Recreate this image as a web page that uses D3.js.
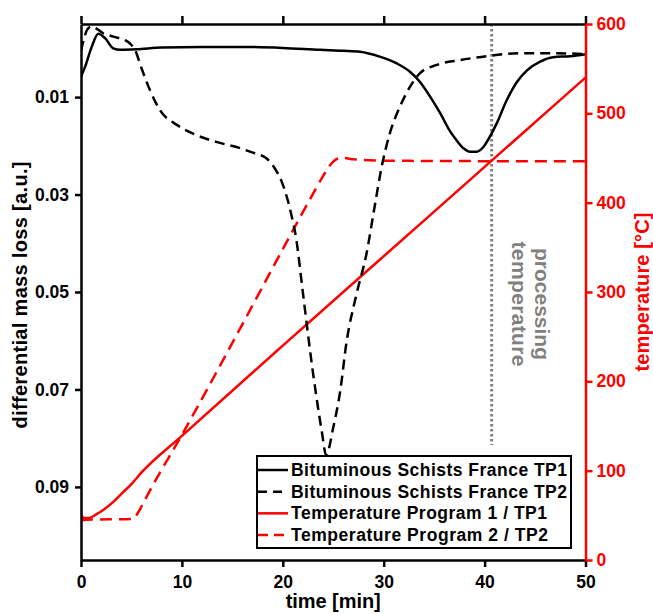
<!DOCTYPE html>
<html><head><meta charset="utf-8">
<script src="https://cdn.jsdelivr.net/npm/d3@7"></script>
<style>
html,body{margin:0;padding:0;background:#fff;}
svg{display:block;font-family:"Liberation Sans",Arial,sans-serif;font-weight:bold;}
</style></head>
<body><svg id="c" width="653" height="614"></svg>
<script>
// ---------- data ----------
const xTicks = [0,10,20,30,40,50];
const leftTicks = [0.01,0.03,0.05,0.07,0.09];
const rightTicks = [0,100,200,300,400,500,600];

// Bituminous Schists France TP1 (differential mass loss)
const tp1Time = [0,0.4,1.06,1.71,2.38,3.2,3.87,5.5,8,12,16,20,23.7,26,27.65,29.6,31.3,32.6,33.6,34.6,35.6,36.6,37.2,37.9,38.55,39.2,39.9,40.5,41.2,42.2,43.2,44.2,45.5,46.8,48.5,50];
const tp1Mass = [0.0058,0.0038,-0.0003,-0.0030,-0.0021,-0.0000,0.0003,0.0002,-0.0002,-0.0003,-0.0003,-0.0001,0.0003,0.0005,0.0007,0.0017,0.0031,0.0048,0.0069,0.0099,0.0133,0.0171,0.0188,0.0205,0.0212,0.0212,0.0202,0.0182,0.0154,0.0106,0.0069,0.0045,0.0027,0.0018,0.0016,0.0012];

// Bituminous Schists France TP2 (differential mass loss)
const tp2Time = [0,0.3,0.6,1.06,1.5,2.2,3.2,4.36,4.86,5.35,6.0,6.84,7.83,9.5,11.1,13.4,15.8,16.75,18.4,19.2,19.9,20.4,20.9,21.3,22.0,23.0,23.85,24.3,25.0,25.7,26.3,27.3,28.3,29.1,29.8,30.6,31.6,32.6,33.6,35.25,37.6,40.2,43.5,47,50];
const tp2Mass = [0.0005,-0.0020,-0.0038,-0.0045,-0.0041,-0.0031,-0.0024,-0.0017,-0.0010,0.0003,0.0041,0.0086,0.0127,0.0157,0.0175,0.0192,0.0205,0.0212,0.0226,0.0246,0.0274,0.0305,0.0346,0.0387,0.0503,0.0667,0.0784,0.0835,0.0778,0.0702,0.0605,0.0505,0.0421,0.0325,0.0243,0.0175,0.0120,0.0079,0.0051,0.0034,0.0024,0.0016,0.0010,0.0010,0.0012];

// Temperature Program 1 / TP1 (°C)
const temp1Time = [0,0.3,0.8,1.5,2.2,3.2,4,5,6,10,20,30,40,50];
const temp1Vals = [50.4,47,47,51,56,65,74,85,98,139,240,340,440,540];

// Temperature Program 2 / TP2 (°C)
const temp2Time = [0,0.5,5.2,5.6,6.0,6.84,10,15,20,23,24,24.5,25,25.5,26,27,30,40,50];
const temp2Vals = [44,45,46,52,60,78,140,243,348,410,430,439,446,449.5,450,448.5,447,446.5,446.5];

const legendLabels = ["Bituminous Schists France TP1","Bituminous Schists France TP2","Temperature Program 1 / TP1","Temperature Program 2 / TP2"];
const processingTime = 40.7;

// ---------- scales ----------
const svg = d3.select("#c");
const X0=81, X1=585.5, Y0=24, Y1=560;
const x = d3.scaleLinear().domain([0,50]).range([X0,X1]);
const yL = d3.scaleLinear().domain([-0.005,0.105]).range([Y0,Y1]);
const yR = d3.scaleLinear().domain([0,600]).range([Y1,Y0]);
const RED="#ff0000", GRAY="#808080";

svg.append("clipPath").attr("id","clip").append("rect")
  .attr("x",X0).attr("y",Y0).attr("width",X1-X0).attr("height",Y1-Y0);

const plot = svg.append("g").attr("clip-path","url(#clip)");

// processing temperature dotted line
plot.append("line")
  .attr("x1",x(processingTime)).attr("x2",x(processingTime))
  .attr("y1",Y0).attr("y2",445)
  .attr("stroke",GRAY).attr("stroke-width",3).attr("stroke-dasharray","2.6,2.4");

function drawLine(ts, vs, scale, color, dash){
  const data = ts.map((t,i)=>[t,vs[i]]);
  const line = d3.line().x(d=>x(d[0])).y(d=>scale(d[1])).curve(d3.curveMonotoneX);
  const p = plot.append("path").datum(data).attr("d",line)
    .attr("fill","none").attr("stroke",color).attr("stroke-width",2.5)
    .attr("stroke-linejoin","round");
  if(dash) p.attr("stroke-dasharray",dash);
}
drawLine(temp1Time,temp1Vals,yR,RED,null);
drawLine(temp2Time,temp2Vals,yR,RED,"12,7");
drawLine(tp1Time,tp1Mass,yL,"#000",null);
drawLine(tp2Time,tp2Mass,yL,"#000","10,6");

// processing temperature label
const pg = svg.append("g").attr("fill",GRAY).attr("font-size",21).attr("text-anchor","middle");
pg.append("text").attr("transform","translate(535,304) rotate(90)").attr("textLength",112).attr("lengthAdjust","spacing").text("processing");
pg.append("text").attr("transform","translate(512,304) rotate(90)").attr("textLength",125).attr("lengthAdjust","spacing").text("temperature");

// ---------- axes ----------
function styleAxis(g, color){
  g.select(".domain").attr("stroke",color).attr("stroke-width",2.5);
  g.selectAll(".tick line").attr("stroke",color).attr("stroke-width",2.5);
  g.selectAll(".tick text").attr("fill",color).attr("font-size",17.5).attr("font-family",null);
}
const gb = svg.append("g").attr("transform",`translate(0,${Y1})`)
  .call(d3.axisBottom(x).tickValues(xTicks).tickFormat(d3.format("d")).tickSize(7).tickSizeOuter(0).tickPadding(9));
styleAxis(gb,"#000");
const gt = svg.append("g").attr("transform",`translate(0,${Y0})`)
  .call(d3.axisTop(x).tickValues(xTicks).tickFormat("").tickSize(8).tickSizeOuter(0));
styleAxis(gt,"#000");
const gl = svg.append("g").attr("transform",`translate(${X0},0)`)
  .call(d3.axisLeft(yL).tickValues(leftTicks).tickFormat(d3.format(".2f")).tickSize(6).tickSizeOuter(0).tickPadding(6));
styleAxis(gl,"#000");
const gr = svg.append("g").attr("transform",`translate(${X1},0)`)
  .call(d3.axisRight(yR).tickValues(rightTicks).tickFormat(d3.format("d")).tickSize(7).tickSizeOuter(0).tickPadding(4));
styleAxis(gr,RED);

// axis titles
svg.append("text").attr("x",(X0+X1)/2).attr("y",608).attr("text-anchor","middle")
  .attr("font-size",20).attr("textLength",95).attr("lengthAdjust","spacing").text("time [min]");
svg.append("text").attr("transform","translate(27,295) rotate(-90)").attr("text-anchor","middle")
  .attr("font-size",20).attr("textLength",267).attr("lengthAdjust","spacing").text("differential mass loss [a.u.]");
svg.append("text").attr("transform","translate(649,292) rotate(-90)").attr("text-anchor","middle")
  .attr("fill",RED).attr("font-size",20).attr("textLength",159).attr("lengthAdjust","spacing").text("temperature [°C]");

// ---------- legend ----------
const lg = svg.append("g");
lg.append("rect").attr("x",257).attr("y",456).attr("width",314).attr("height",92)
  .attr("fill","#fff").attr("stroke","#000").attr("stroke-width",2);
const legColors = ["#000","#000",RED,RED];
const legDash = [null,"9,6",null,"10,6"];
const legLen = [276,276,256,257];
legendLabels.forEach((lab,i)=>{
  const yy = 470 + i*21.67;
  const l = lg.append("line").attr("x1",258).attr("x2",288).attr("y1",yy).attr("y2",yy)
    .attr("stroke",legColors[i]).attr("stroke-width",2.5);
  if(legDash[i]) l.attr("stroke-dasharray",legDash[i]);
  lg.append("text").attr("x",291).attr("y",yy+6).attr("font-size",17.5)
    .attr("textLength",legLen[i]).attr("lengthAdjust","spacing").text(lab);
});
</script></body></html>
